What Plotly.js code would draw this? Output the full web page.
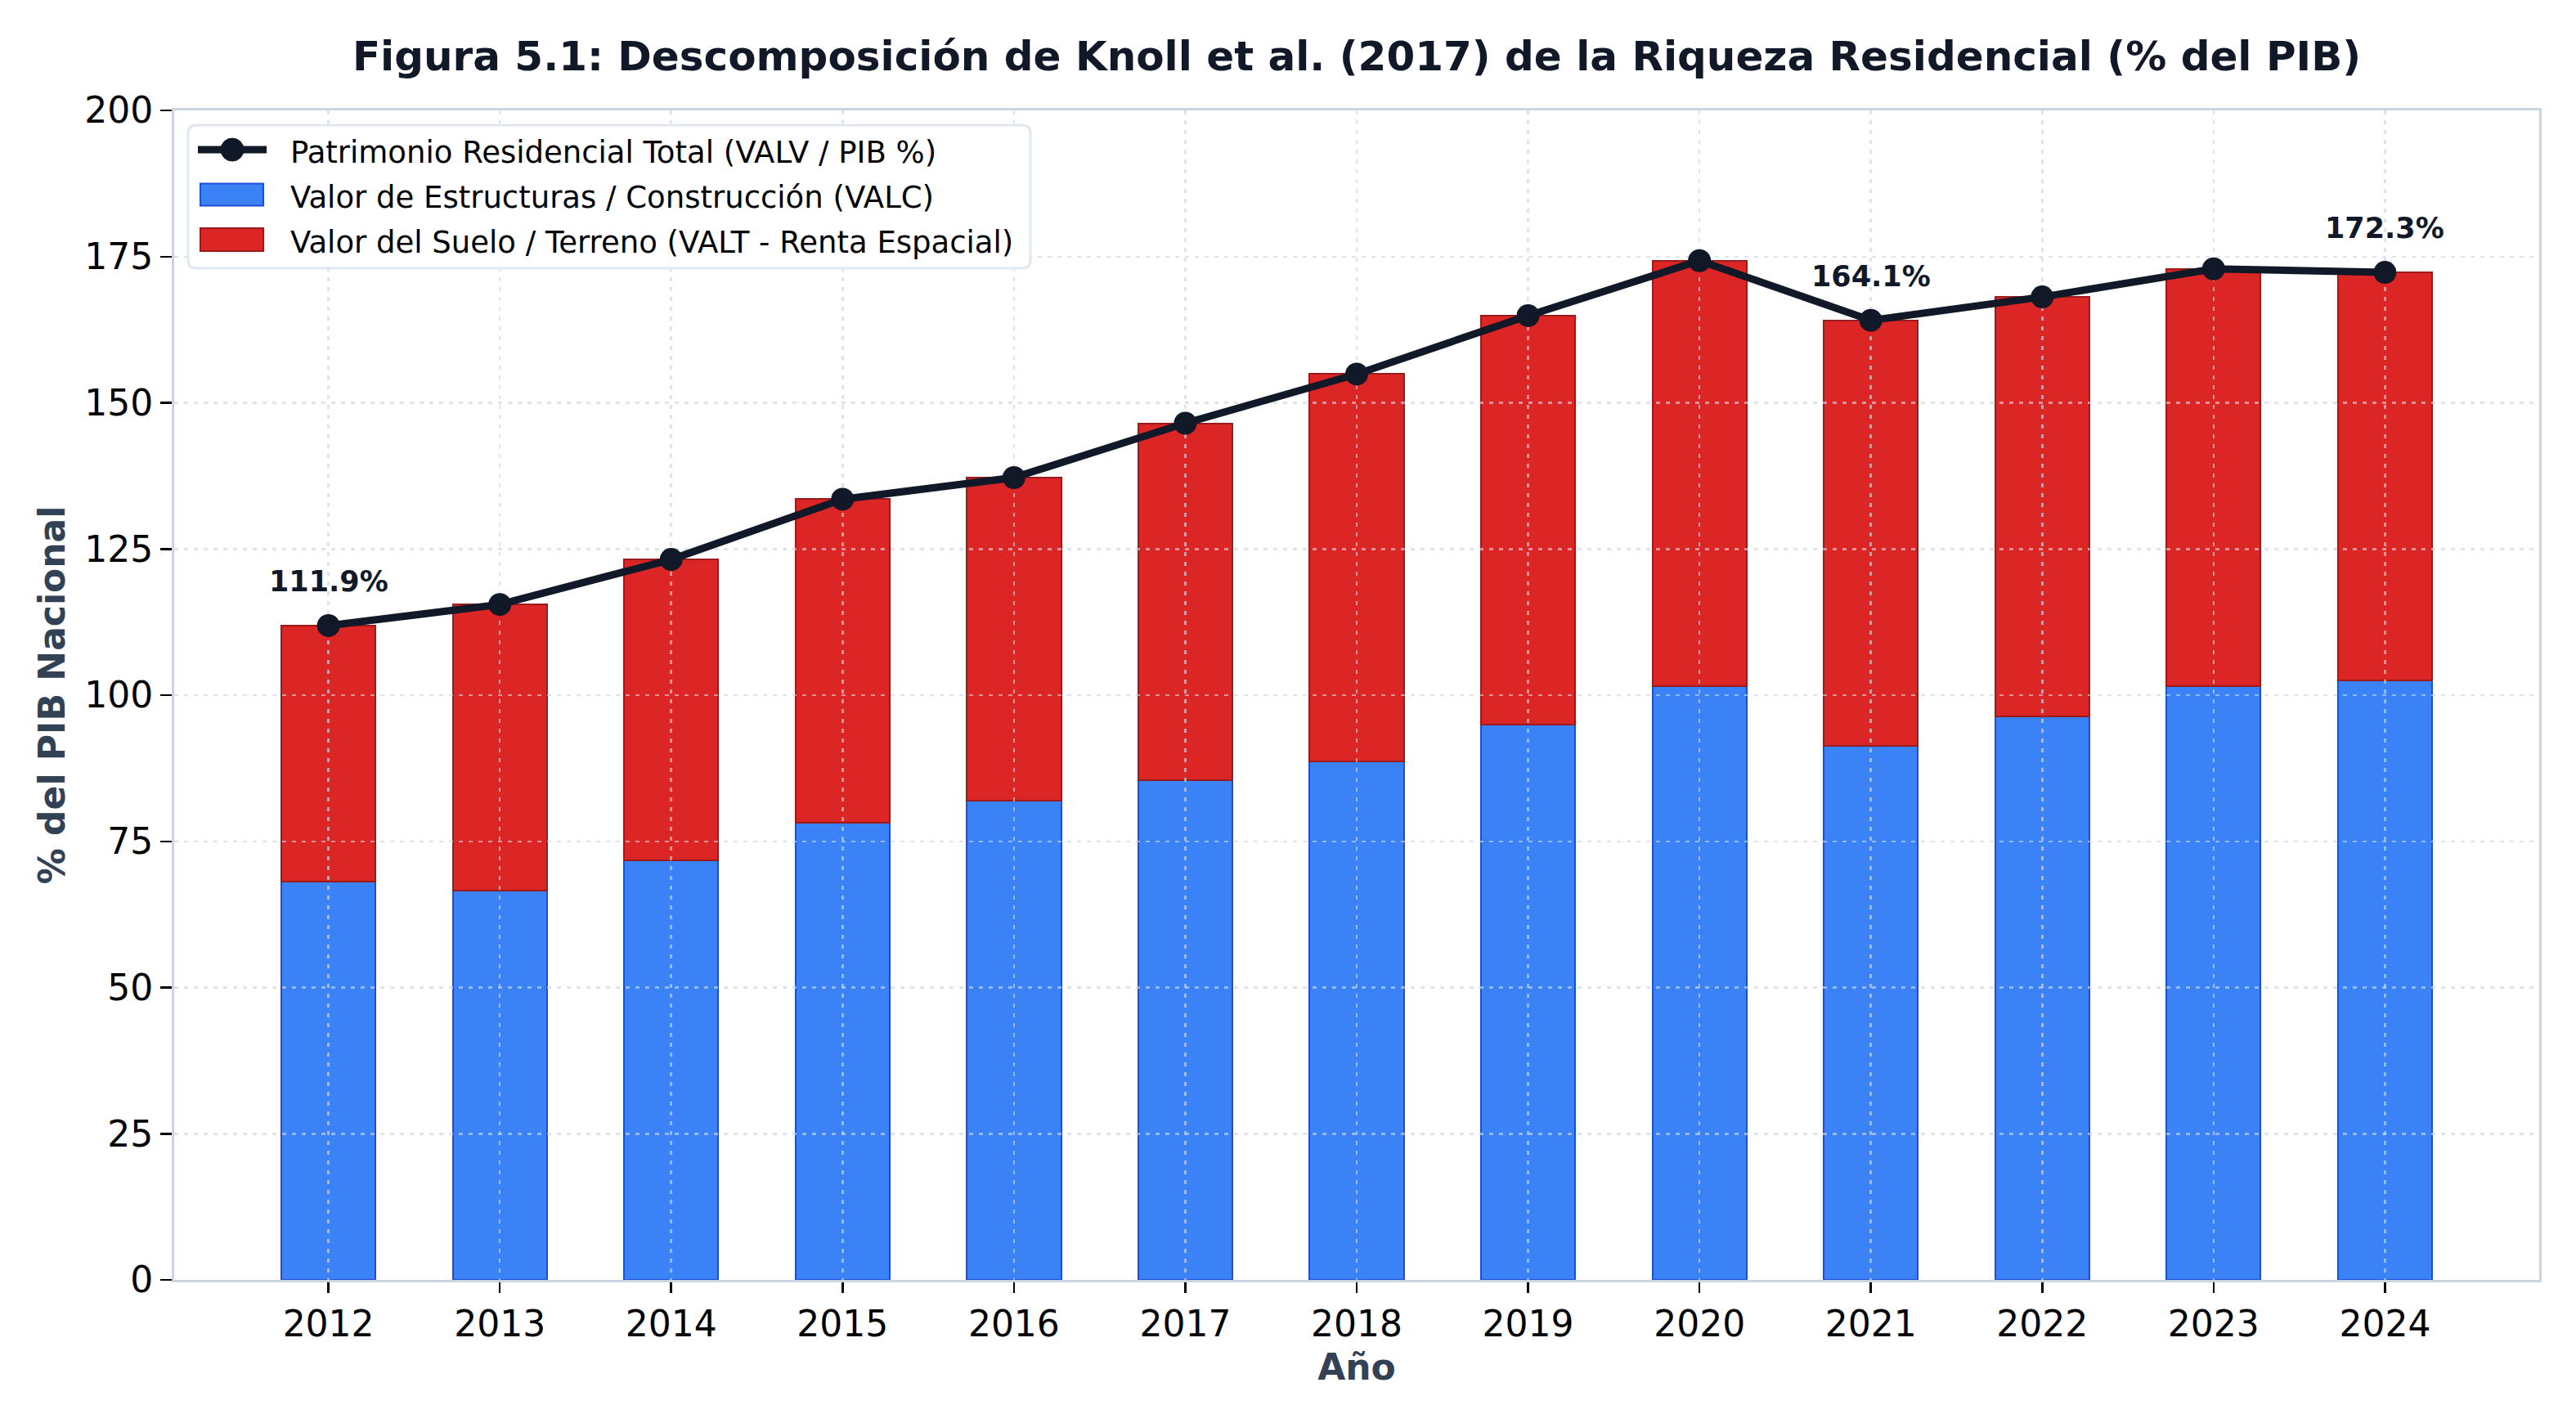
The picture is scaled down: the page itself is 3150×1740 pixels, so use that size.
<!DOCTYPE html>
<html>
<head>
<meta charset="utf-8">
<script src="https://cdn.plot.ly/plotly-3.0.1.min.js"></script>
<style>
  html, body { margin: 0; padding: 0; background: #ffffff; }
  #chart { width: 3150px; height: 1740px; }
</style>
</head>
<body>
<div id="chart"></div>
<script>
// values (% of GDP)
var years = [2012, 2013, 2014, 2015, 2016, 2017, 2018, 2019, 2020, 2021, 2022, 2023, 2024];
var valc = [68.1, 66.6, 71.8, 78.2, 81.9, 85.5, 88.7, 94.9, 101.6, 91.3, 96.3, 101.6, 102.5];
var valt = [43.8, 48.9, 51.4, 55.3, 55.3, 61.0, 66.2, 70.0, 72.7, 72.8, 71.8, 71.3, 69.8];
var valv = [111.9, 115.5, 123.2, 133.5, 137.2, 146.5, 154.9, 164.9, 174.3, 164.1, 168.1, 172.9, 172.3];
var labelYears = [2012, 2021, 2024];
var yTicks = [0, 25, 50, 75, 100, 125, 150, 175, 200];

var font = 'DejaVu Sans, Liberation Sans, sans-serif';
var xRange = [2011.1, 2024.9];
var lineCol = '#111827';
var blue = '#3b82f6', blueEdge = '#1d4ed8';
var red = '#dc2626', redEdge = '#991b1b';

// plot area in page pixels, used only to place the hand-built legend
var M = {l: 213, r: 45, t: 135, b: 175};
var W = 3150, H = 1740;
var pw = W - M.l - M.r, ph = H - M.t - M.b;
function px(x) { return (x - M.l) / pw; }
function py(y) { return (H - M.b - y) / ph; }

// bars live on the lower subplot, the total line on an identical one on top,
// so the grid (drawn by the upper subplot) sits between bars and line
var traceTotal = {
  x: years, y: valv,
  type: 'scatter', mode: 'lines+markers',
  name: 'Patrimonio Residencial Total (VALV / PIB %)',
  xaxis: 'x2', yaxis: 'y2',
  line: {color: lineCol, width: 9},
  marker: {color: lineCol, size: 28}
};

var traceValc = {
  x: years, y: valc,
  type: 'bar', width: 0.55,
  name: 'Valor de Estructuras / Construcción (VALC)',
  marker: {color: blue, line: {color: blueEdge, width: 2}}
};

var traceValt = {
  x: years, y: valt,
  type: 'bar', width: 0.55,
  name: 'Valor del Suelo / Terreno (VALT - Renta Espacial)',
  marker: {color: red, line: {color: redEdge, width: 2}}
};

var annotations = labelYears.map(function (yr) {
  var v = valv[years.indexOf(yr)];
  return {
    x: yr, y: v, xref: 'x2', yref: 'y2',
    text: v.toFixed(1) + '%',
    showarrow: false, yanchor: 'middle', yshift: 54,
    font: {family: font, size: 35, color: lineCol, weight: 'bold'}
  };
});

// legend box, drawn by hand so the swatches can be matplotlib-sized
function roundedBox(x0, y0, x1, y1, r) {
  var rx = r / pw, ry = r / ph;
  var a = px(x0), b = px(x1), top = py(y0), bot = py(y1);
  return 'M' + (a + rx) + ',' + top +
    ' L' + (b - rx) + ',' + top + ' Q' + b + ',' + top + ' ' + b + ',' + (top - ry) +
    ' L' + b + ',' + (bot + ry) + ' Q' + b + ',' + bot + ' ' + (b - rx) + ',' + bot +
    ' L' + (a + rx) + ',' + bot + ' Q' + a + ',' + bot + ' ' + a + ',' + (bot + ry) +
    ' L' + a + ',' + (top - ry) + ' Q' + a + ',' + top + ' ' + (a + rx) + ',' + top + ' Z';
}

var rows = [183, 238, 293];
var shapes = [
  {type: 'path', xref: 'paper', yref: 'paper', layer: 'above',
   path: roundedBox(230, 153, 1260, 328, 10),
   fillcolor: 'rgba(255,255,255,0.9)', line: {color: '#e2e8f0', width: 3}},
  {type: 'line', xref: 'paper', yref: 'paper', layer: 'above',
   x0: px(242), x1: px(326), y0: py(rows[0]), y1: py(rows[0]),
   line: {color: lineCol, width: 9}},
  {type: 'circle', xref: 'paper', yref: 'paper', layer: 'above',
   x0: px(270), x1: px(298), y0: py(rows[0] - 14), y1: py(rows[0] + 14),
   fillcolor: lineCol, line: {color: lineCol, width: 1}},
  {type: 'rect', xref: 'paper', yref: 'paper', layer: 'above',
   x0: px(245), x1: px(322), y0: py(rows[1] - 13.5), y1: py(rows[1] + 13.5),
   fillcolor: blue, line: {color: blueEdge, width: 2}},
  {type: 'rect', xref: 'paper', yref: 'paper', layer: 'above',
   x0: px(245), x1: px(322), y0: py(rows[2] - 14), y1: py(rows[2] + 14),
   fillcolor: red, line: {color: redEdge, width: 2}}
];

[traceTotal, traceValc, traceValt].forEach(function (t, i) {
  annotations.push({
    x: px(353), y: py(rows[i] + 3), xref: 'paper', yref: 'paper',
    xanchor: 'left', yanchor: 'middle', showarrow: false,
    text: t.name,
    font: {family: font, size: 37, color: '#000000'}
  });
});

var layout = {
  width: W, height: H,
  paper_bgcolor: '#ffffff',
  plot_bgcolor: 'rgba(0,0,0,0)',
  margin: M,
  barmode: 'stack',
  showlegend: false,
  font: {family: font, size: 44, color: '#000000'},
  title: {
    text: '<b>Figura 5.1: Descomposición de Knoll et al. (2017) de la Riqueza Residencial (% del PIB)</b>',
    font: {family: font, size: 50, color: lineCol},
    x: 0.5, xref: 'paper', xanchor: 'center',
    y: 1 - 68 / H, yref: 'container', yanchor: 'middle'
  },
  xaxis: {
    range: xRange, tickmode: 'array', tickvals: years,
    showgrid: false, zeroline: false,
    showline: true, linecolor: '#cbd5e1', linewidth: 3, mirror: true,
    ticks: 'outside', ticklen: 13, tickwidth: 2.5, tickcolor: '#000000',
    tickfont: {family: font, size: 44, color: '#000000'},
    title: {text: '<b>Año</b>', standoff: 14,
            font: {family: font, size: 44, color: '#334155'}}
  },
  yaxis: {
    range: [0, 200], tickmode: 'array', tickvals: yTicks,
    showgrid: false, zeroline: false,
    showline: true, linecolor: '#cbd5e1', linewidth: 3, mirror: true,
    ticks: 'outside', ticklen: 14, tickwidth: 2.5, tickcolor: '#000000',
    tickfont: {family: font, size: 44, color: '#000000'},
    title: {text: '<b>% del PIB Nacional</b>', standoff: 10,
            font: {family: font, size: 44, color: '#334155'}}
  },
  xaxis2: {
    range: xRange, anchor: 'y2', domain: [0, 1],
    tickmode: 'array', tickvals: years,
    showgrid: true, gridcolor: 'rgba(203,213,225,0.65)', gridwidth: 2.5, griddash: '5px,7px',
    zeroline: false, showline: false, showticklabels: false, ticks: ''
  },
  yaxis2: {
    range: [0, 200], anchor: 'x2', domain: [0, 1],
    tickmode: 'array', tickvals: yTicks,
    showgrid: true, gridcolor: 'rgba(203,213,225,0.65)', gridwidth: 2.5, griddash: '5px,7px',
    zeroline: false, showline: false, showticklabels: false, ticks: ''
  },
  shapes: shapes,
  annotations: annotations
};

Plotly.newPlot('chart', [traceTotal, traceValc, traceValt], layout, {displayModeBar: false, staticPlot: true});
</script>
</body>
</html>
